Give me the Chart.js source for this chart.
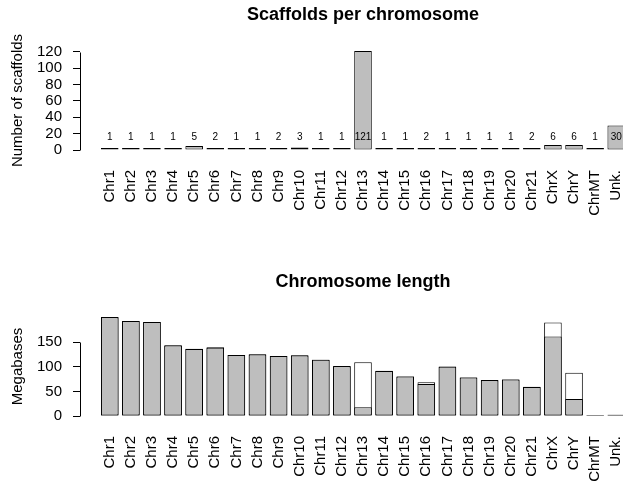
<!DOCTYPE html>
<html>
<head>
<meta charset="utf-8">
<script src="https://cdn.jsdelivr.net/npm/chart.js@4.4.0/dist/chart.umd.min.js"></script>
<style>
    html, body { margin: 0; padding: 0; background: #fff; overflow: hidden; }
    canvas { position: absolute; left: 0; }
    #chart-scaffolds { top: 0; }
    #chart-length { top: 240px; }
</style>
</head>
<body>
<canvas id="chart-scaffolds" width="680" height="240"></canvas>
<canvas id="chart-length" width="680" height="243"></canvas>
<script>
// --- Datos ---
const chromosomes = ['Chr1', 'Chr2', 'Chr3', 'Chr4', 'Chr5', 'Chr6', 'Chr7', 'Chr8', 'Chr9', 'Chr10',
    'Chr11', 'Chr12', 'Chr13', 'Chr14', 'Chr15', 'Chr16', 'Chr17', 'Chr18', 'Chr19', 'Chr20',
    'Chr21', 'ChrX', 'ChrY', 'ChrMT', 'Unk.'];
const scaffoldCounts = [1, 1, 1, 1, 5, 2, 1, 1, 2, 3, 1, 1, 121, 1, 1, 2, 1, 1, 1, 1, 2, 6, 6, 1, 30];
// Megabases: total length (white) and assembled part (grey)
const totalMb = [201, 193, 191, 143.8, 136.6, 139.4, 123.8, 125.6, 121.8, 123.1, 114.2, 101.4,
    109.3, 91.8, 80.3, 68.6, 100.6, 78.3, 72.9, 74.2, 59.2, 190, 87.6, 0.02, 2.5];
const assembledMb = [200.4, 192.6, 190.6, 143, 136, 138.5, 123.6, 124.8, 121.6, 122.7, 114, 101.2,
    17.7, 91.6, 80, 64.8, 100, 78, 72.7, 74, 59.1, 161.5, 34.6, 0.02, 2.5];
const scaffoldTicks = [0, 20, 40, 60, 80, 100, 120];
const lengthTicks = [0, 50, 100, 150];

const FONT_FAMILY = '"Liberation Sans", Arial, Helvetica, sans-serif';
const GREY = '#bebebe';
const COUNT_LABEL_Y = 16;

// Linea del eje Y estilo R: solo entre el primer y el ultimo tick
const axisLinePlugin = {
    id: 'axisLine',
    afterDraw(chart) {
        const y = chart.scales.y;
        const ticks = y.ticks;
        const x = Math.round(chart.chartArea.left) + 0.5;
        const ctx = chart.ctx;
        ctx.save();
        ctx.strokeStyle = '#000';
        ctx.lineWidth = 1;
        ctx.beginPath();
        ctx.moveTo(x, Math.round(y.getPixelForValue(ticks[0].value)) + 0.5);
        ctx.lineTo(x, Math.round(y.getPixelForValue(ticks[ticks.length - 1].value)) + 0.5);
        ctx.stroke();
        ctx.restore();
    }
};

// Numero de scaffolds escrito encima de cada barra
const countLabelsPlugin = {
    id: 'countLabels',
    afterDatasetsDraw(chart) {
        const { ctx, scales: { x, y } } = chart;
        ctx.save();
        ctx.font = '10px ' + FONT_FAMILY;
        ctx.fillStyle = '#000';
        ctx.textAlign = 'center';
        ctx.textBaseline = 'middle';
        scaffoldCounts.forEach((n, i) => {
            ctx.fillText(String(n), x.getPixelForValue(i), y.getPixelForValue(COUNT_LABEL_Y));
        });
        ctx.restore();
    }
};

function makeOptions({ title, titlePadding, yTitle, yTicks, yMax, xHeight }) {
    const n = chromosomes.length;
    const xPad = 0.5 / 1.2 + 0.04 * (n - 1 + 1 / 1.2);
    const xMin = -xPad;
    const xMax = n - 1 + xPad;
    const yMin = -0.04 * yMax;
    const yTop = 1.04 * yMax;
    const font = { family: FONT_FAMILY, size: 15 };
    return {
        responsive: false,
        animation: false,
        layout: { padding: { left: 0, right: 34, top: 0, bottom: 0 } },
        plugins: {
            legend: { display: false },
            tooltip: { enabled: false },
            title: {
                display: true,
                text: title,
                fullSize: false,
                color: '#000',
                font: { family: FONT_FAMILY, size: 18, weight: 'bold' },
                padding: titlePadding
            }
        },
        scales: {
            x: {
                type: 'linear',
                bounds: 'data',
                offset: false,
                min: xMin,
                max: xMax,
                afterBuildTicks: s => {
                    s.ticks = chromosomes.map((_, i) => ({ value: i }));
                    s.min = xMin;
                    s.max = xMax;
                },
                afterFit: s => { s.height = xHeight; },
                grid: { display: false, drawTicks: false, offset: false },
                border: { display: false },
                ticks: {
                    autoSkip: false,
                    minRotation: 90,
                    maxRotation: 90,
                    padding: 16,
                    color: '#000',
                    font,
                    callback: v => chromosomes[v]
                }
            },
            y: {
                bounds: 'data',
                min: yMin,
                max: yTop,
                afterBuildTicks: s => {
                    s.ticks = yTicks.map(v => ({ value: v }));
                    s.min = yMin;
                    s.max = yTop;
                },
                afterFit: s => { s.width = 80; },
                grid: { drawOnChartArea: false, drawTicks: true, tickLength: 7, color: '#000' },
                border: { display: false },
                ticks: { autoSkip: false, padding: 11, color: '#000', font },
                title: { display: true, text: yTitle, color: '#000', font, padding: { top: 9, bottom: 0 } }
            }
        }
    };
}

const toPoints = values => values.map((v, i) => ({ x: i, y: v }));

new Chart(document.getElementById('chart-scaffolds'), {
    type: 'bar',
    data: {
        datasets: [{
            data: toPoints(scaffoldCounts),
            backgroundColor: GREY,
            borderColor: '#000',
            borderWidth: 1,
            borderSkipped: false,
            minBarLength: 2,
            categoryPercentage: 1,
            barPercentage: 1 / 1.2
        }]
    },
    options: makeOptions({
        title: 'Scaffolds per chromosome',
        titlePadding: { top: 4, bottom: 21.4 },
        yTitle: 'Number of scaffolds',
        yTicks: scaffoldTicks,
        yMax: Math.max(...scaffoldCounts),
        xHeight: 86
    }),
    plugins: [axisLinePlugin, countLabelsPlugin]
});

new Chart(document.getElementById('chart-length'), {
    type: 'bar',
    data: {
        datasets: [{
            data: toPoints(assembledMb),
            backgroundColor: GREY,
            borderColor: '#000',
            borderWidth: 1,
            borderSkipped: false,
            minBarLength: 1,
            grouped: false,
            order: 0,
            categoryPercentage: 1,
            barPercentage: 1 / 1.2
        }, {
            data: toPoints(totalMb),
            backgroundColor: '#ffffff',
            borderColor: '#000',
            borderWidth: 1,
            borderSkipped: false,
            minBarLength: 1,
            grouped: false,
            order: 1,
            categoryPercentage: 1,
            barPercentage: 1 / 1.2
        }]
    },
    options: makeOptions({
        title: 'Chromosome length',
        titlePadding: { top: 31, bottom: 20.4 },
        yTitle: 'Megabases',
        yTicks: lengthTicks,
        yMax: Math.max(...totalMb),
        xHeight: 63
    }),
    plugins: [axisLinePlugin]
});
</script>
</body>
</html>
